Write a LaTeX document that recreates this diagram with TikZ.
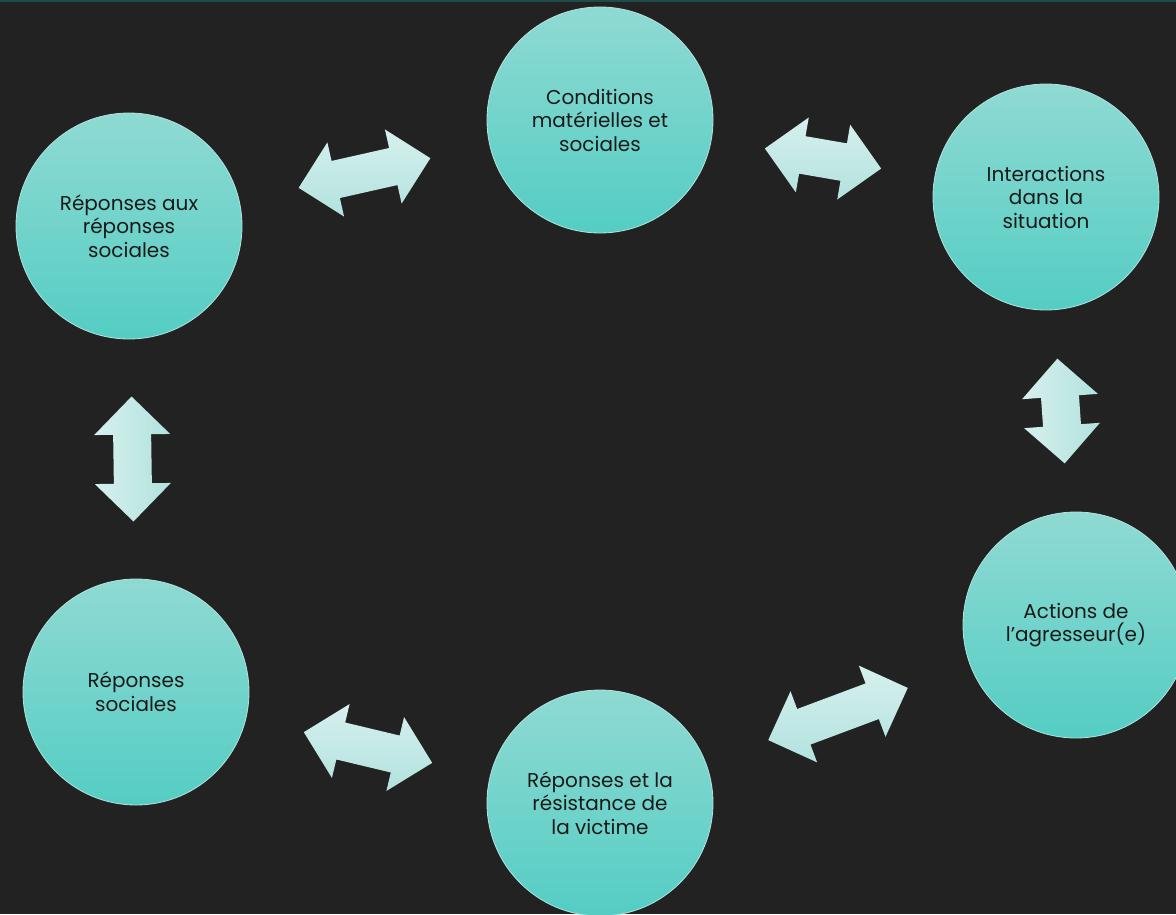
\documentclass[tikz,border=0pt]{standalone}
\usepackage{fontspec}
\setmainfont{Poppins}
\definecolor{fond}{RGB}{34,34,34}
\definecolor{liseret}{RGB}{28,78,72}
\definecolor{bulleclair}{RGB}{143,218,211}
\definecolor{bullefonce}{RGB}{84,205,195}
\definecolor{bullebord}{RGB}{175,228,223}
\definecolor{flecheclair}{RGB}{214,240,238}
\definecolor{flechefonce}{RGB}{178,226,222}
\definecolor{texte}{RGB}{26,26,26}
\tikzset{
  bulle/.style={circle,minimum size=226pt,inner sep=0pt,align=center,
    top color=bulleclair,bottom color=bullefonce,draw=bullebord,line width=0.8pt,
    text=texte,font=\fontsize{20}{23.5}\selectfont},
  fleche/.style={top color=flecheclair,bottom color=flechefonce},
  doublefleche/.pic={
    \shade[fleche] ({-#1/2},0) -- ({-#1/2+38},-38) -- ({-#1/2+38},-19) -- ({#1/2-38},-19)
      -- ({#1/2-38},-38) -- ({#1/2},0) -- ({#1/2-38},38) -- ({#1/2-38},19)
      -- ({-#1/2+38},19) -- ({-#1/2+38},38) -- cycle;
  }
}
\begin{document}
\begin{tikzpicture}[x=1pt,y=-1pt]
  %fond
  \fill[fond] (0,0) rectangle (1176,914);
  \clip (0,0) rectangle (1176,914);
  \draw[liseret,line width=3pt] (0,0) -- (1176,0);
  %bulles
  \node[bulle] (cms) at (600,120) {Conditions\\matérielles et\\sociales};
  \node[bulle] (ids) at (1046,197) {Interactions\\dans la\\situation};
  \node[bulle] (act) at (1076,625) {Actions de\\l’agresseur(e)};
  \node[bulle] (rrv) at (600,803) {Réponses et la\\résistance de\\la victime};
  \node[bulle] (rs) at (136,692) {Réponses\\sociales};
  \node[bulle] (rars) at (129,226) {Réponses aux\\réponses\\sociales};
  %fleches
  \path (rars) -- (cms) pic[midway,sloped]{doublefleche=135};
  \path (cms) -- (ids) pic[midway,sloped]{doublefleche=118};
  \path (ids) -- (act) pic[midway,sloped,fleche/.append style={shading angle=90}]{doublefleche=105};
  \path (act) -- (rrv) pic[midway,sloped]{doublefleche=149};
  \path (rs) -- (rrv) pic[midway,sloped]{doublefleche=132};
  \path (rars) -- (rs) pic[midway,sloped,fleche/.append style={shading angle=90}]{doublefleche=125};
\end{tikzpicture}
\end{document}
